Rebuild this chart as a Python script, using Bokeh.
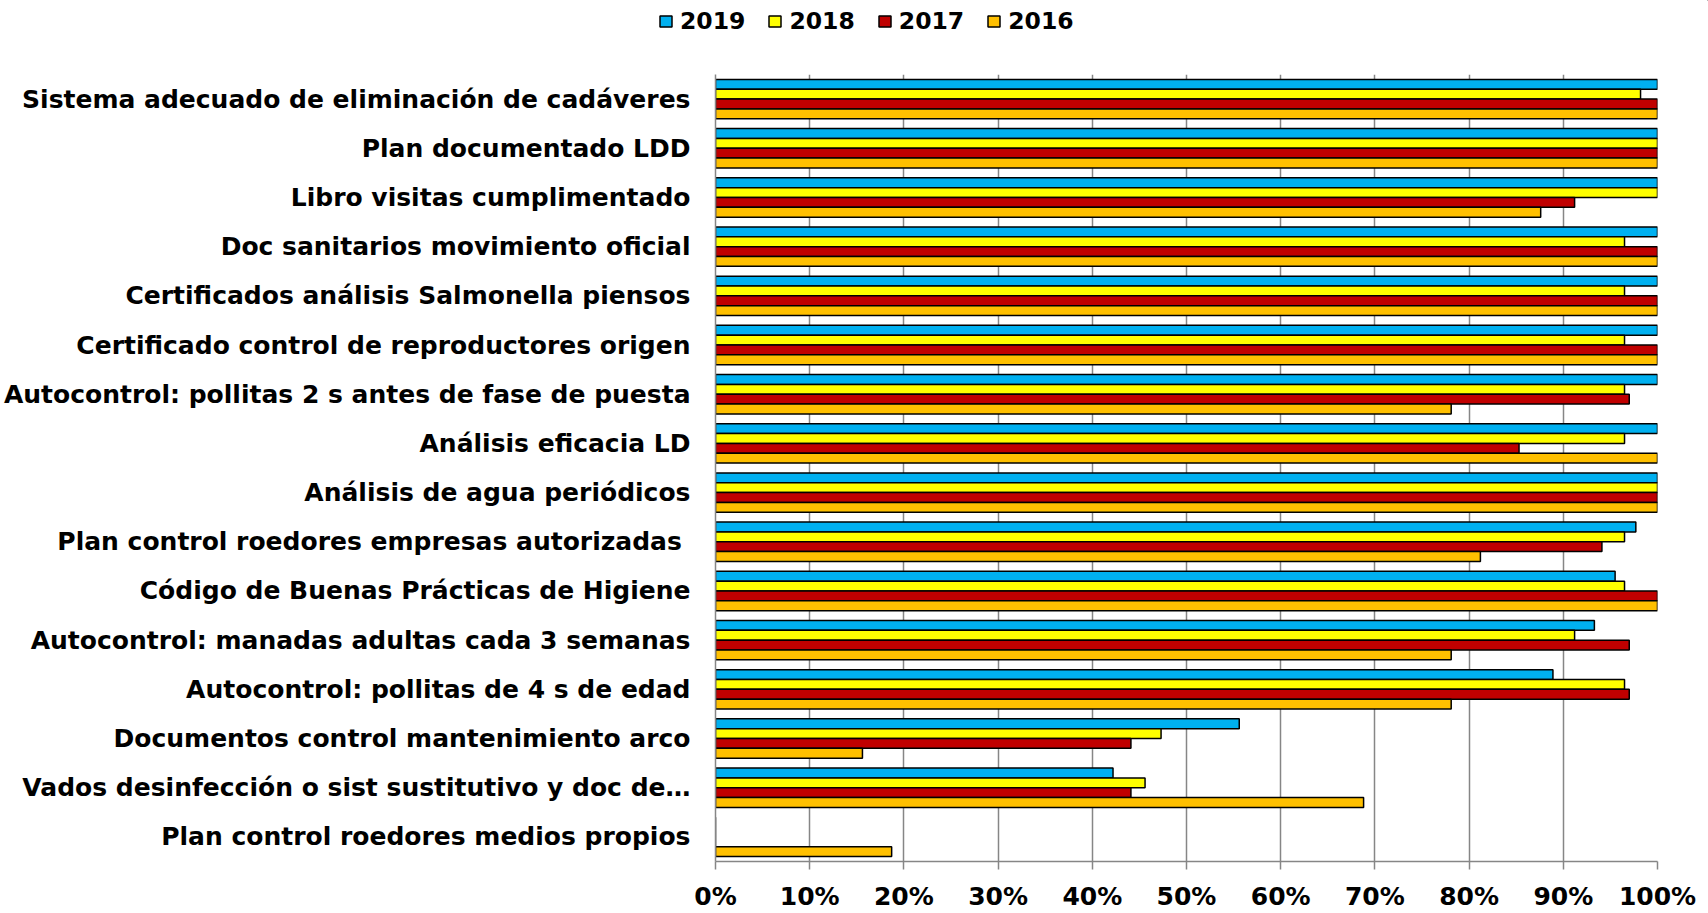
from bokeh.plotting import figure
from bokeh.models import (FactorRange, Range1d, Legend, LegendItem, ColumnDataSource,
                          FixedTicker, PrintfTickFormatter)
from bokeh.transform import dodge
from bokeh.embed import file_html
from bokeh.resources import INLINE

categories = [
    "Sistema adecuado de eliminación de cadáveres",
    "Plan documentado LDD",
    "Libro visitas cumplimentado",
    "Doc sanitarios movimiento oficial",
    "Certificados análisis Salmonella piensos",
    "Certificado control de reproductores origen",
    "Autocontrol: pollitas 2 s antes de fase de puesta",
    "Análisis eficacia LD",
    "Análisis de agua periódicos",
    "Plan  control roedores empresas autorizadas",
    "Código de Buenas Prácticas de Higiene",
    "Autocontrol: manadas adultas cada 3 semanas",
    "Autocontrol: pollitas de 4 s de edad",
    "Documentos control mantenimiento arco",
    "Vados desinfección o sist sustitutivo y doc de…",
    "Plan control roedores medios propios",
]

v2019 = [100, 100, 100, 100, 100, 100, 100, 100, 100, 97.7, 95.5, 93.3, 88.9, 55.6, 42.2, 0]
v2018 = [98.2, 100, 100, 96.5, 96.5, 96.5, 96.5, 96.5, 100, 96.5, 96.5, 91.2, 96.5, 47.3, 45.6, 0]
v2017 = [100, 100, 91.2, 100, 100, 100, 97.0, 85.3, 100, 94.1, 100, 97.0, 97.0, 44.1, 44.1, 0]
v2016 = [100, 100, 87.6, 100, 100, 100, 78.1, 100, 100, 81.2, 100, 78.1, 78.1, 15.6, 68.8, 18.7]

series_names = ["2019", "2018", "2017", "2016"]
series_colors = ["#00B0F0", "#FFFF00", "#C00000", "#FFC000"]
x_ticks = [0, 10, 20, 30, 40, 50, 60, 70, 80, 90, 100]

source = ColumnDataSource(data=dict(cat=categories, s2019=v2019, s2018=v2018,
                                    s2017=v2017, s2016=v2016))

FONT = "DejaVu Sans"
GRAY = "#868686"
W = 1708
TOTAL_H = 913
LEG_H = 50

# ---------- legend strip (separate root, stacked above the chart) ----------
lf = figure(width=W, height=LEG_H, output_backend="svg", toolbar_location=None,
            x_range=Range1d(0, 1), y_range=Range1d(0, 1),
            x_axis_location=None, y_axis_location=None, min_border=0,
            min_border_left=0, min_border_right=0, min_border_top=0, min_border_bottom=0)
lf.outline_line_color = None
lf.grid.visible = False
leg_renderers = []
for col in series_colors:
    leg_renderers.append(lf.hbar(y=[2], right=[2], left=[2], height=0.2,
                                 fill_color=col, line_color="black", line_width=1.5))
legend = Legend(items=[LegendItem(label=n, renderers=[r]) for n, r in zip(series_names, leg_renderers)],
                orientation="horizontal", location=(658, 15),
                glyph_width=15, glyph_height=14, label_standoff=7, spacing=22,
                padding=0, margin=0, border_line_color=None,
                background_fill_alpha=0,
                label_text_font=FONT, label_text_font_size="23.5px",
                label_text_font_style="bold", label_text_color="black")
lf.add_layout(legend, "center")

# ---------- main chart ----------
p = figure(width=W, height=TOTAL_H - LEG_H, output_backend="svg", toolbar_location=None,
           y_range=FactorRange(*list(reversed(categories))),
           x_range=Range1d(0, 100),
           min_border_left=714, min_border_right=51, min_border_top=74 - LEG_H,
           min_border_bottom=50)
p.outline_line_color = None
p.background_fill_color = "white"
p.border_fill_color = "white"

offsets = [0.3, 0.1, -0.1, -0.3]
fields = ["s2019", "s2018", "s2017", "s2016"]
for f, off, col in zip(fields, offsets, series_colors):
    p.hbar(y=dodge("cat", off, range=p.y_range), right=f, left=0, height=0.2,
           source=source, fill_color=col, line_color="black", line_width=1.5)

# grid
p.ygrid.grid_line_color = None
p.xgrid.grid_line_color = GRAY
p.xgrid.grid_line_width = 1.5
p.xgrid.ticker = FixedTicker(ticks=x_ticks)

# x axis
p.xaxis.ticker = FixedTicker(ticks=x_ticks)
p.xaxis.formatter = PrintfTickFormatter(format="%d%%")
p.xaxis.axis_line_color = GRAY
p.xaxis.axis_line_width = 1.5
p.xaxis.major_tick_line_color = GRAY
p.xaxis.major_tick_line_width = 1.5
p.xaxis.major_tick_out = 8
p.xaxis.major_tick_in = 0
p.xaxis.minor_tick_line_color = None
p.xaxis.major_label_text_font = FONT
p.xaxis.major_label_text_font_size = "25px"
p.xaxis.major_label_text_font_style = "bold"
p.xaxis.major_label_text_color = "black"
p.xaxis.major_label_standoff = 12

# y axis
p.yaxis.axis_line_color = GRAY
p.yaxis.axis_line_width = 1.5
p.yaxis.major_tick_line_color = None
p.yaxis.minor_tick_line_color = None
p.yaxis.major_label_text_font = FONT
p.yaxis.major_label_text_font_size = "25px"
p.yaxis.major_label_text_font_style = "bold"
p.yaxis.major_label_text_color = "black"
p.yaxis.major_label_standoff = 19

open("out.html", "w").write(file_html([lf, p], INLINE))
